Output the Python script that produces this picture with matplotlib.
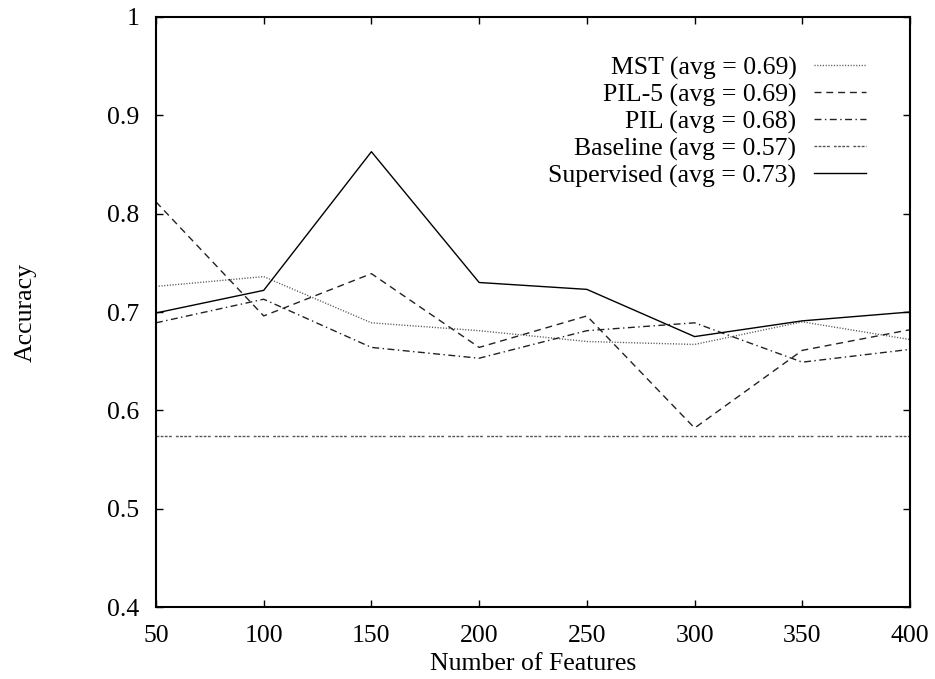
import numpy as np
import matplotlib as mpl
mpl.use('Agg')
import matplotlib.pyplot as plt

# data
features = [50, 100, 150, 200, 250, 300, 350, 400]
mst = [0.726, 0.736, 0.689, 0.681, 0.670, 0.667, 0.690, 0.672]
pil5 = [0.812, 0.696, 0.739, 0.664, 0.696, 0.582, 0.661, 0.682]
pil = [0.689, 0.713, 0.664, 0.653, 0.681, 0.689, 0.649, 0.662]
baseline = [0.574] * len(features)
supervised = [0.699, 0.722, 0.863, 0.730, 0.723, 0.675, 0.691, 0.700]

labels = ['MST (avg = 0.69)', 'PIL-5 (avg = 0.69)', 'PIL (avg = 0.68)',
          'Baseline (avg = 0.57)', 'Supervised (avg = 0.73)']
yticks = [0.4, 0.5, 0.6, 0.7, 0.8, 0.9, 1.0]
yticklabels = ['0.4', '0.5', '0.6', '0.7', '0.8', '0.9', '1']

mpl.rcParams['font.family'] = 'Liberation Serif'
mpl.rcParams['font.size'] = 18.5
mpl.rcParams['xtick.direction'] = 'in'
mpl.rcParams['ytick.direction'] = 'in'
mpl.rcParams['xtick.top'] = True
mpl.rcParams['ytick.right'] = True
mpl.rcParams['xtick.major.size'] = 5
mpl.rcParams['ytick.major.size'] = 5
mpl.rcParams['xtick.major.width'] = 1.0
mpl.rcParams['ytick.major.width'] = 1.0
mpl.rcParams['axes.linewidth'] = 1.5

fig = plt.figure(figsize=(9.35, 6.79), dpi=100)
ax = fig.add_axes([0.1668, 0.106, 0.8065, 0.869])

ax.plot(features, mst, color='#555555', lw=1.0, dashes=(0.8, 1.2), label=labels[0])
ax.plot(features, pil5, color='#222222', lw=1.0, dashes=(5, 3.5), label=labels[1])
ax.plot(features, pil, color='#222222', lw=1.0, dashes=(5, 2.5, 1, 2.5), label=labels[2])
ax.plot(features, baseline, color='#555555', lw=1.0,
        dashes=(2, 1, 2, 1, 2, 1, 2, 3), label=labels[3])
ax.plot(features, supervised, color='black', lw=1.0, label=labels[4])

ax.set_xlim(50, 400)
ax.set_ylim(0.4, 1.0)
ax.set_xticks(features)
ax.set_yticks(yticks)
ax.set_yticklabels(yticklabels)
ax.tick_params(axis='y', labelsize=18.5, pad=12)
ax.tick_params(axis='x', labelsize=18.5, pad=13)
ax.set_xlabel('Number of Features', fontsize=18.5, labelpad=4)
ax.set_ylabel('Accuracy', fontsize=18.5)
ax.yaxis.set_label_coords(-0.158, 0.5)

leg = ax.legend(loc='upper right', bbox_to_anchor=(0.955, 0.951), frameon=False,
                markerfirst=False, fontsize=18.5, handlelength=2.0,
                labelspacing=0.14, handletextpad=0.7, borderaxespad=0)

fig.savefig('out.png', dpi=100)
